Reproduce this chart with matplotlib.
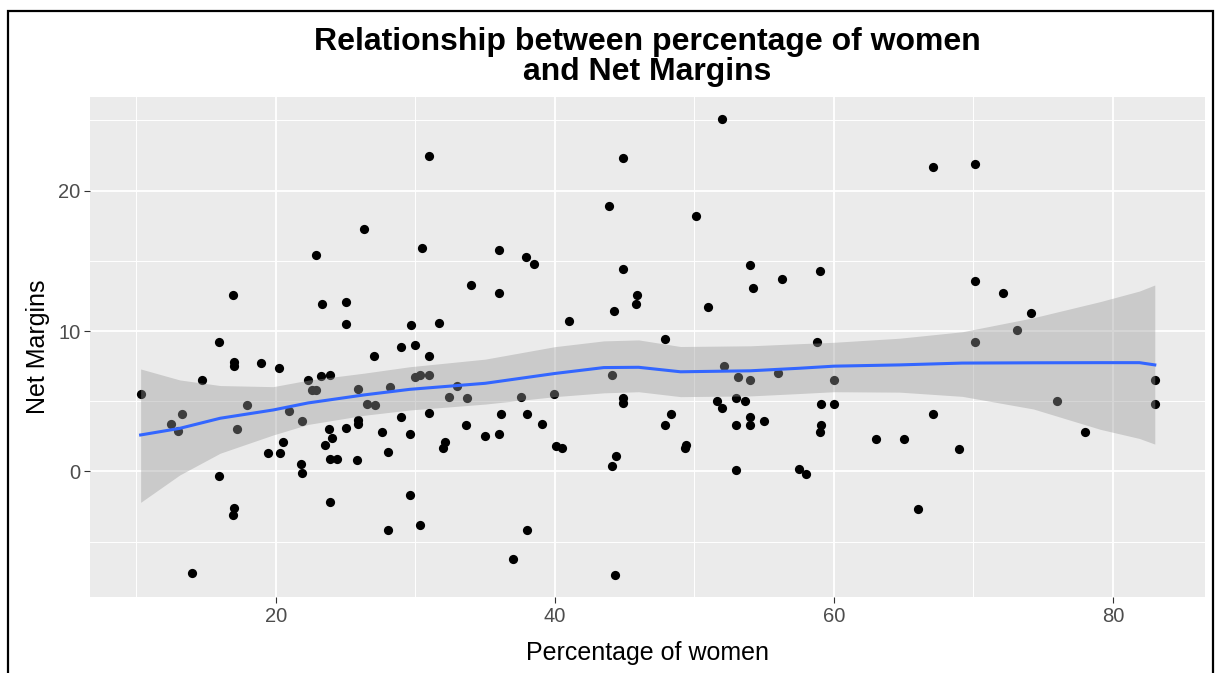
import matplotlib
matplotlib.use("Agg")
import matplotlib.pyplot as plt
from matplotlib.patches import Rectangle

plt.rcParams['font.family'] = ['Liberation Sans', 'DejaVu Sans']

# percentage of women vs net margins
pct_women = [
    26.3, 22.9, 16.9, 23.3, 25.0, 25.0, 15.9,
    17.0, 17.0, 18.9, 20.2, 14.7, 10.3, 22.3, 23.2, 23.9, 22.6, 22.9,
    25.9, 26.5, 17.9, 13.3, 12.5, 13.0, 17.2, 20.9, 21.9, 23.8, 24.0,
    25.0, 25.9, 25.9, 23.5, 23.9, 24.4, 25.8, 20.5, 19.4, 20.3, 21.8,
    21.9, 15.9, 17.0, 16.9, 23.9, 14.0,
    31.0, 44.9, 43.9, 30.5, 36.0, 37.9, 38.5, 44.9, 34.0, 36.0, 45.9,
    45.8, 44.2, 29.7, 31.7, 41.0, 27.0, 29.0, 30.0, 31.0, 28.2, 30.0,
    30.3, 31.0, 27.1, 33.0, 32.4, 33.7, 37.6, 39.9, 44.1, 44.9, 44.9,
    29.0, 31.0, 27.6, 29.6, 28.0, 32.0, 32.1, 33.6, 35.0, 36.0, 36.1,
    38.0, 39.1, 40.1, 40.5, 44.1, 44.4, 29.6, 28.0, 30.3, 38.0, 37.0,
    44.3,
    52.0, 50.1, 54.0, 59.0, 56.3, 54.2, 51.0, 47.9, 58.8, 52.1, 53.1,
    54.0, 56.0, 60.0, 51.6, 52.0, 53.0, 53.6, 59.1, 60.0, 48.3, 47.9,
    53.0, 54.0, 54.0, 55.0, 59.1, 59.0, 49.4, 49.3, 63.0, 65.0, 53.0,
    57.5, 58.0, 66.0,
    67.1, 70.1, 70.1, 72.1, 74.1, 73.1, 70.1, 83.0, 83.0, 76.0, 78.0,
    67.1, 69.0,
]
net_margins = [
    17.3, 15.4, 12.6, 11.9, 12.1, 10.5, 9.2,
    7.8, 7.5, 7.7, 7.4, 6.5, 5.5, 6.5, 6.8, 6.9, 5.8, 5.8,
    5.9, 4.8, 4.7, 4.1, 3.4, 2.9, 3.0, 4.3, 3.6, 3.0, 2.4,
    3.1, 3.7, 3.4, 1.9, 0.9, 0.9, 0.8, 2.1, 1.3, 1.3, 0.5,
    -0.1, -0.3, -2.6, -3.1, -2.2, -7.2,
    22.5, 22.3, 18.9, 15.9, 15.8, 15.3, 14.8, 14.4, 13.3, 12.7, 12.6,
    11.9, 11.4, 10.4, 10.6, 10.7, 8.2, 8.9, 9.0, 8.2, 6.0, 6.7,
    6.9, 6.9, 4.7, 6.1, 5.3, 5.2, 5.3, 5.5, 6.9, 5.2, 4.9,
    3.9, 4.2, 2.8, 2.7, 1.4, 1.7, 2.1, 3.3, 2.5, 2.7, 4.1,
    4.1, 3.4, 1.8, 1.7, 0.4, 1.1, -1.7, -4.2, -3.8, -4.2, -6.2,
    -7.4,
    25.1, 18.2, 14.7, 14.3, 13.7, 13.1, 11.7, 9.4, 9.2, 7.5, 6.7,
    6.5, 7.0, 6.5, 5.0, 4.5, 5.2, 5.0, 4.8, 4.8, 4.1, 3.3,
    3.3, 3.9, 3.3, 3.6, 3.3, 2.8, 1.9, 1.7, 2.3, 2.3, 0.1,
    0.2, -0.2, -2.7,
    21.7, 21.9, 13.6, 12.7, 11.3, 10.1, 9.2, 6.5, 4.8, 5.0, 2.8,
    4.1, 1.6,
]

# loess fit and its confidence band
fit_x = [10.3, 13.1, 16.0, 19.8, 22.3, 26.3, 29.6, 35.0, 40.0, 43.5, 46.0,
         49.0, 54.0, 57.5, 60.0, 64.7, 69.2, 74.3, 79.1, 81.9, 83.0]
fit_y = [2.60, 3.07, 3.79, 4.38, 4.88, 5.45, 5.85, 6.28, 6.98, 7.40, 7.42,
         7.10, 7.17, 7.35, 7.50, 7.59, 7.72, 7.74, 7.75, 7.75, 7.59]
fit_hi = [7.30, 6.52, 6.12, 6.04, 6.50, 7.00, 7.46, 8.00, 8.89, 9.30, 9.37,
          8.90, 8.95, 9.10, 9.20, 9.49, 9.95, 10.95, 12.10, 12.85, 13.28]
fit_lo = [-2.20, -0.25, 1.30, 2.60, 3.35, 4.00, 4.38, 4.80, 5.33, 5.60, 5.68,
          5.33, 5.38, 5.55, 5.68, 5.65, 5.35, 4.45, 3.00, 2.35, 1.95]

fig = plt.figure(figsize=(12.19, 6.73), dpi=100)
ax = fig.add_axes([90 / 1219, 1 - 597 / 673, 1115 / 1219, 500 / 673])

ax.set_facecolor('#EBEBEB')
for s in ax.spines.values():
    s.set_visible(False)

ax.scatter(pct_women, net_margins, s=44, color='black', linewidths=0, zorder=3)
ax.fill_between(fit_x, fit_lo, fit_hi, color='#999999', alpha=0.4, linewidth=0, zorder=4)
ax.plot(fit_x, fit_y, color='#3366FF', linewidth=2.2, zorder=5)

ax.set_xlim(6.67, 86.6)
ax.set_ylim(-8.94, 26.67)
ax.set_xticks([20, 40, 60, 80])
ax.set_xticks([10, 30, 50, 70], minor=True)
ax.set_yticks([0, 10, 20])
ax.set_yticks([-5, 5, 15, 25], minor=True)
ax.grid(which='major', color='white', linewidth=1.3, zorder=0)
ax.grid(which='minor', color='white', linewidth=0.7, zorder=0)
ax.set_axisbelow(True)

ax.tick_params(which='major', length=4, width=0.8, color='#333333',
               labelsize=14.5, labelcolor='#4D4D4D', pad=3)
ax.tick_params(which='minor', length=0)

ax.set_xlabel('Percentage of women', fontsize=18, labelpad=11)
ax.set_ylabel('Net Margins', fontsize=18, labelpad=6)

fig.text(647 / 1219, 1 - 27 / 673,
         'Relationship between percentage of women\nand Net Margins',
         ha='center', va='top', fontsize=23, fontweight='bold', linespacing=1.0)

# black frame around the whole picture
fig.patches.append(Rectangle((8 / 1219, -0.1), (1213 - 8) / 1219, 1.1 - 11 / 673,
                             transform=fig.transFigure, fill=False,
                             edgecolor='black', linewidth=1.6))

fig.savefig('out.png', dpi=100)
